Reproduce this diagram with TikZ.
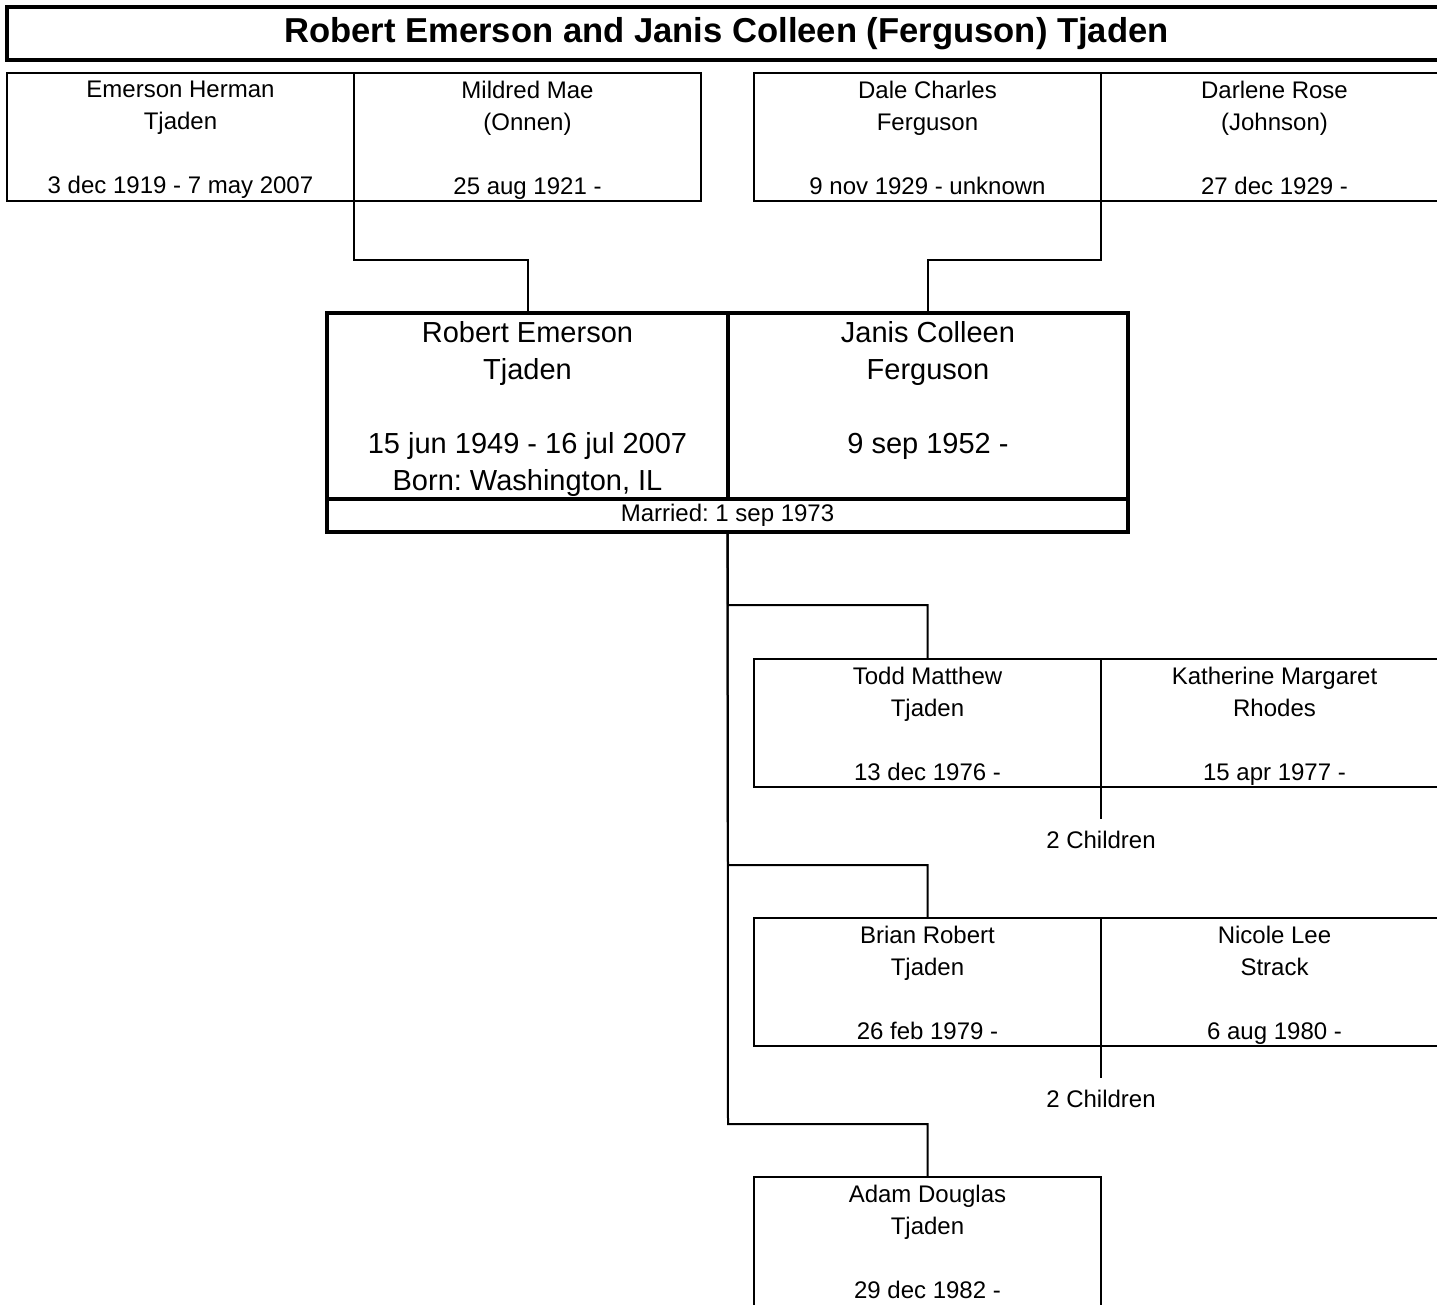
\documentclass[tikz,border=0pt]{standalone}
\usepackage{fontspec}
\setmainfont{Liberation Sans}
\usetikzlibrary{calc,positioning}

\tikzset{
  pbox/.style={draw,line width=1pt,minimum width=173.5pt,minimum height=64pt,
    anchor=north west,inner sep=0pt,outer sep=0pt},
  cbox/.style={draw,line width=1.75pt,minimum width=200pt,minimum height=93pt,
    anchor=north west,inner sep=0pt,outer sep=0pt},
  smalltxt/.style={align=center,inner sep=0pt,font=\fontsize{12}{16}\selectfont},
  bigtxt/.style={align=center,inner sep=0pt,font=\fontsize{14.5}{18.5}\selectfont},
  link/.style={line width=1pt},
}

\begin{document}
\frenchspacing
\begin{tikzpicture}[x=0.5pt,y=-0.5pt]
  \useasboundingbox (0,0) rectangle (1437,1305);
  \clip (0,0) rectangle (1437,1305);
  % title
  \draw[line width=2pt] (1480,7) -- (7,7) -- (7,60) -- (1480,60);
  \node[inner sep=0pt,font=\bfseries\fontsize{17.3}{20}\selectfont] (head) at (726.5,33.5)
    {Robert Emerson and Janis Colleen (Ferguson) Tjaden};
  % grandparents and children
  \foreach \p/\x/\y/\h/\t in {
      eh/7/73/64/{Emerson Herman\\Tjaden\\[16pt]3 dec 1919 - 7 may 2007},
      mm/354/73/64/{Mildred Mae\\(Onnen)\\[16pt]25 aug 1921 -},
      dc/754/73/64/{Dale Charles\\Ferguson\\[16pt]9 nov 1929 - unknown},
      dr/1101/73/64/{Darlene Rose\\(Johnson)\\[16pt]27 dec 1929 -},
      td/754/659/64/{Todd Matthew\\Tjaden\\[16pt]13 dec 1976 -},
      km/1101/659/64/{Katherine Margaret\\Rhodes\\[16pt]15 apr 1977 -},
      br/754/918/64/{Brian Robert\\Tjaden\\[16pt]26 feb 1979 -},
      nl/1101/918/64/{Nicole Lee\\Strack\\[16pt]6 aug 1980 -},
      ad/754/1177/70/{Adam Douglas\\Tjaden\\[16pt]29 dec 1982 -}}
  {
    \node[pbox,minimum height=\h pt] (\p) at (\x,\y) {};
    \node[smalltxt,below=3.7pt of \p.north] {\t};
  }
  % main couple
  \node[cbox,minimum width=200.5pt] (re) at (327,313) {};
  \node[cbox] (jc) at (728,313) {};
  \node[bigtxt,below=3.8pt of re.north]
    {Robert Emerson\\Tjaden\\[18.5pt]15 jun 1949 - 16 jul 2007\\Born: Washington, IL};
  \node[bigtxt,below=3.8pt of jc.north] {Janis Colleen\\Ferguson\\[18.5pt]9 sep 1952 -};
  \node[cbox,minimum width=400.5pt,minimum height=16.5pt,
    font=\fontsize{12}{13}\selectfont] (mar) at (327,499) {Married: 1 sep 1973};
  % links
  \draw[link] (eh.south east) -- ++(0,59) -| (re.north);
  \draw[link] (dc.south east) -- ++(0,59) -| (jc.north);
  \foreach \c/\y in {td/605,br/865,ad/1124}
    \draw[link] (mar.south) -- (728,\y) -| (\c.north);
  \foreach \c in {td,br}
    \draw[link] (\c.south east) -- ++(0,32)
      node[smalltxt,anchor=north,yshift=-5.5pt] {2 Children};
\end{tikzpicture}
\end{document}
